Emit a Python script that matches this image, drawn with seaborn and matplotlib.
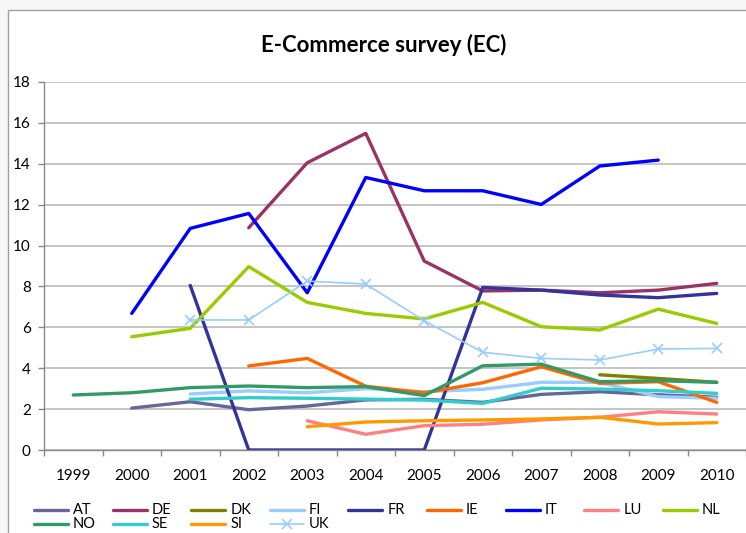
import numpy as np
import pandas as pd
import matplotlib
matplotlib.use("Agg")
import matplotlib.pyplot as plt
from matplotlib.lines import Line2D
from matplotlib.patches import Rectangle
import seaborn as sns

nan = np.nan
years = ["1999", "2000", "2001", "2002", "2003", "2004",
         "2005", "2006", "2007", "2008", "2009", "2010"]

AT = [nan, 2.05, 2.36, 1.97, 2.15, 2.45, 2.48, 2.33, 2.72, 2.85, 2.70, 2.58]
DE = [nan, nan, nan, 10.87, 14.05, 15.49, 9.24, 7.78, 7.82, 7.69, 7.82, 8.15]
DK = [nan, nan, nan, nan, nan, nan, nan, nan, nan, 3.68, 3.50, 3.31]
FI = [nan, nan, 2.74, 2.89, 2.80, 3.00, 2.85, 2.97, 3.31, 3.31, 2.61, 2.53]
FR = [nan, nan, 8.05, 0.0, 0.0, 0.0, 0.0, 7.95, 7.82, 7.58, 7.45, 7.66]
IE = [nan, nan, nan, 4.11, 4.48, 3.12, 2.80, 3.29, 4.07, 3.26, 3.34, 2.33]
IT = [nan, 6.68, 10.84, 11.57, 7.69, 13.33, 12.68, 12.68, 12.01, 13.89, 14.18, nan]
LU = [nan, nan, nan, nan, 1.43, 0.77, 1.19, 1.26, 1.47, 1.60, 1.87, 1.76]
NL = [nan, 5.54, 5.95, 8.97, 7.22, 6.68, 6.41, 7.22, 6.03, 5.87, 6.89, 6.19]
NO = [2.69, 2.80, 3.05, 3.13, 3.05, 3.10, 2.66, 4.12, 4.20, 3.34, 3.39, 3.31]
SE = [nan, nan, 2.48, 2.56, 2.53, 2.49, 2.44, 2.28, 3.02, 2.98, 2.90, 2.77]
SI = [nan, nan, nan, nan, 1.14, 1.37, 1.43, 1.47, 1.52, 1.60, 1.27, 1.34]
UK = [nan, nan, 6.36, 6.36, 8.26, 8.12, 6.32, 4.78, 4.48, 4.40, 4.94, 4.97]

countries = ["AT", "DE", "DK", "FI", "FR", "IE", "IT", "LU", "NL",
             "NO", "SE", "SI", "UK"]
series = [AT, DE, DK, FI, FR, IE, IT, LU, NL, NO, SE, SI, UK]
colors = ["#666699", "#993366", "#808000", "#99CCFF", "#333399", "#FF6600",
          "#0000FF", "#FF8080", "#99CC00", "#339966", "#33CCCC", "#FF9900",
          "#99CCFF"]

rows = []
for name, vals in zip(countries, series):
    for i, v in enumerate(vals):
        rows.append({"country": name, "pos": i, "value": v})
df = pd.DataFrame(rows).dropna()

sns.set_theme(style="white")
plt.rcParams["font.family"] = ["Lato", "DejaVu Sans"]

W, H = 746, 533
fig = plt.figure(figsize=(W / 100, H / 100), dpi=100, facecolor="#F7F7F7")

# white chart area with a thin gray frame
fig.add_artist(Rectangle((8 / W, -0.1), 1.2, (H - 10) / H + 0.1,
                         transform=fig.transFigure, facecolor="white",
                         edgecolor="#A0A0A0", lw=1.0, zorder=0))

ax = fig.add_axes([44 / W, (H - 450) / H, (W - 44) / W, (450 - 82) / H])
ax.set_facecolor("white")
ax.patch.set_alpha(0)

for name, col in zip(countries, colors):
    sub = df[df["country"] == name]
    if name == "UK":
        sns.lineplot(data=sub, x="pos", y="value", ax=ax, color=col, lw=1.2,
                     marker="x", markersize=7, markeredgewidth=1.2,
                     markeredgecolor=col, legend=False)
    else:
        sns.lineplot(data=sub, x="pos", y="value", ax=ax, color=col, lw=2.4,
                     legend=False)

ax.set_xlim(-0.5, 11.5)
ax.set_ylim(0, 18)
ax.set_yticks(np.arange(0, 19, 2))
ax.set_yticklabels([str(v) for v in range(0, 19, 2)])
ax.set_xticks(range(12))
ax.set_xticklabels(years)
ax.set_xticks(np.arange(-0.5, 12, 1), minor=True)
ax.set_xlabel("")
ax.set_ylabel("")

ax.grid(axis="y", color="#B4B4B4", lw=1.1)
ax.set_axisbelow(True)
for s in ["top", "right"]:
    ax.spines[s].set_visible(False)
for s in ["left", "bottom"]:
    ax.spines[s].set_color("#888888")
    ax.spines[s].set_linewidth(1.0)

ax.tick_params(axis="x", which="major", length=0, pad=13.5, labelsize=11,
               labelcolor="black")
ax.tick_params(axis="x", which="minor", length=4.5, width=1.0,
               color="#888888", direction="out", bottom=True)
ax.tick_params(axis="y", which="major", length=4.5, width=1.0,
               color="#888888", direction="out", left=True, pad=5,
               labelsize=11, labelcolor="black")

fig.text(384 / W, 1 - 45 / H, "E-Commerce survey (EC)", ha="center",
         va="center", fontsize=16, fontweight="bold", color="black")

# legend laid out in a 9-column grid below the plot
for i, (name, col) in enumerate(zip(countries, colors)):
    r, c = divmod(i, 9)
    x0 = 34 + 78.6 * c
    y = H - (509.5 + 14 * r)
    if name == "UK":
        fig.add_artist(Line2D([x0 / W, (x0 + 17) / W, (x0 + 34) / W],
                              [y / H] * 3, transform=fig.transFigure,
                              color=col, lw=1.2, marker="x", markersize=7,
                              markeredgewidth=1.2, markevery=[1]))
    else:
        fig.add_artist(Line2D([x0 / W, (x0 + 34) / W], [y / H] * 2,
                              transform=fig.transFigure, color=col, lw=2.4))
    fig.text((x0 + 39) / W, y / H, name, ha="left", va="center",
             fontsize=10.5, color="black")

fig.savefig("out.png", dpi=100, facecolor=fig.get_facecolor())
